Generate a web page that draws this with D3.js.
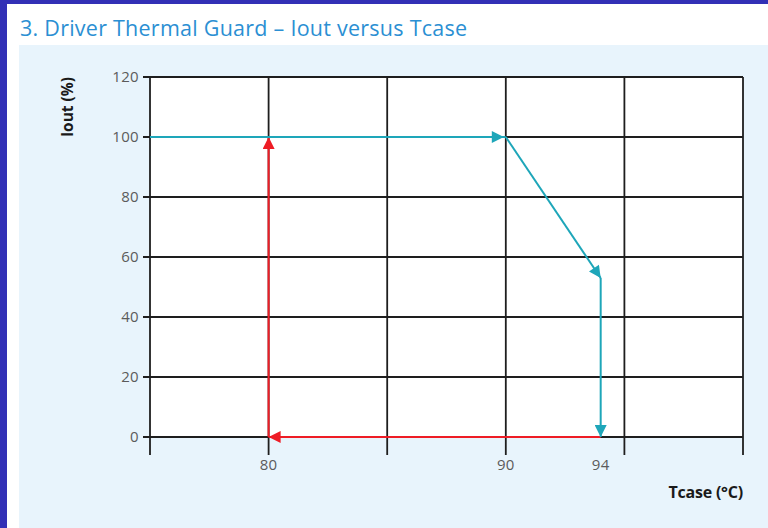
<!DOCTYPE html>
<html>
<head>
<meta charset="utf-8">
<script src="https://cdn.jsdelivr.net/npm/d3@7"></script>
<style>
  body { margin: 0; background: #ffffff; }
  #chart { width: 768px; height: 528px; }
</style>
</head>
<body>
<div id="chart"></div>
<script>
const width = 768;
const height = 528;

// axis ticks
const tempGrid = [75, 80, 85, 90, 95, 100];
const tempLabels = [80, 90, 94];
const ioutTicks = [0, 20, 40, 60, 80, 100, 120];

// derating path (teal) and recovery path (red)
const deratingTemp = [75, 90, 94, 94];
const deratingIout = [100, 100, 53, 0];
const recoveryTemp = [94, 80, 80];
const recoveryIout = [0, 0, 100];

const teal = '#1ea6b9';
const red = '#ee1c25';
const gridColor = '#1e1e1e';

const margin = { top: 77, right: 25, bottom: 91, left: 150 };

const svg = d3
  .select('#chart')
  .append('svg')
  .attr('width', width)
  .attr('height', height)
  .style('font-family', '"Open Sans", Lato, sans-serif');

// blue frame + white band + light panel
svg.append('rect').attr('width', width).attr('height', height).attr('fill', '#3230b6');
svg.append('rect').attr('x', 7).attr('y', 4).attr('width', width - 7).attr('height', height - 4).attr('fill', '#ffffff');
svg.append('rect').attr('x', 19).attr('y', 45).attr('width', width - 19).attr('height', height - 45).attr('fill', '#e8f4fc');

svg
  .append('text')
  .attr('x', 20)
  .attr('y', 36)
  .attr('fill', '#2b8fd3')
  .style('font-size', '21.5px')
  .style('letter-spacing', '0.25px')
  .text('3. Driver Thermal Guard – Iout versus Tcase');

const xScale = d3.scaleLinear().domain([75, 100]).range([margin.left, width - margin.right]);
const yScale = d3.scaleLinear().domain([0, 120]).range([height - margin.bottom, margin.top]);

// plot background
svg
  .append('rect')
  .attr('x', xScale(75))
  .attr('y', yScale(120))
  .attr('width', xScale(100) - xScale(75))
  .attr('height', yScale(0) - yScale(120))
  .attr('fill', '#ffffff');

// horizontal grid lines
svg
  .append('g')
  .selectAll('line')
  .data(ioutTicks)
  .enter()
  .append('line')
  .attr('x1', xScale(75) - 7)
  .attr('x2', xScale(100))
  .attr('y1', (d) => yScale(d))
  .attr('y2', (d) => yScale(d))
  .attr('stroke', gridColor)
  .attr('stroke-width', 1.8);

// vertical grid lines, running down past the 0 line as ticks
svg
  .append('g')
  .selectAll('line')
  .data(tempGrid)
  .enter()
  .append('line')
  .attr('x1', (d) => xScale(d))
  .attr('x2', (d) => xScale(d))
  .attr('y1', yScale(120))
  .attr('y2', yScale(0) + 18)
  .attr('stroke', gridColor)
  .attr('stroke-width', 1.8);

// y tick labels
svg
  .append('g')
  .selectAll('text')
  .data(ioutTicks)
  .enter()
  .append('text')
  .attr('x', xScale(75) - 11)
  .attr('y', (d) => yScale(d))
  .attr('dy', '0.35em')
  .attr('text-anchor', 'end')
  .attr('fill', '#5b5b5b')
  .style('font-size', '15px')
  .style('letter-spacing', '0.3px')
  .text((d) => d);

// x tick labels
svg
  .append('g')
  .selectAll('text')
  .data(tempLabels)
  .enter()
  .append('text')
  .attr('x', (d) => xScale(d))
  .attr('y', yScale(0) + 33)
  .attr('text-anchor', 'middle')
  .attr('fill', '#5b5b5b')
  .style('font-size', '15px')
  .style('letter-spacing', '0.3px')
  .text((d) => d);

// axis titles
svg
  .append('text')
  .attr('x', xScale(100))
  .attr('y', yScale(0) + 61)
  .attr('text-anchor', 'end')
  .attr('fill', '#1a1a1a')
  .style('font-size', '16px')
  .style('font-weight', 'bold')
  .style('letter-spacing', '-0.2px')
  .text('Tcase (°C)');

svg
  .append('text')
  .attr('transform', `translate(73, ${yScale(110)}) rotate(-90)`)
  .attr('text-anchor', 'middle')
  .attr('fill', '#1a1a1a')
  .style('font-size', '15.5px')
  .style('font-weight', 'bold')
  .text('Iout (%)');

// arrow markers
const defs = svg.append('defs');
[['teal', teal], ['red', red]].forEach(([id, color]) => {
  defs
    .append('marker')
    .attr('id', 'arrow-' + id)
    .attr('viewBox', '0 0 10 10')
    .attr('refX', 10)
    .attr('refY', 5)
    .attr('markerUnits', 'userSpaceOnUse')
    .attr('markerWidth', 16)
    .attr('markerHeight', 12)
    .attr('orient', 'auto')
    .append('path')
    .attr('d', 'M0,0 L10,5 L0,10 Z')
    .attr('fill', color);
});

function drawPath(temps, iouts, color, id) {
  const pts = temps.map((t, i) => [xScale(t), yScale(iouts[i])]);
  const segs = d3.pairs(pts);
  svg
    .append('g')
    .selectAll('line')
    .data(segs)
    .enter()
    .append('line')
    .attr('x1', (d) => d[0][0])
    .attr('y1', (d) => d[0][1])
    .attr('x2', (d) => d[1][0])
    .attr('y2', (d) => d[1][1])
    .attr('stroke', color)
    .attr('stroke-width', 2)
    .attr('marker-end', (d, i) => (i === 0 && id === 'teal' ? '' : `url(#arrow-${id})`));
}

drawPath(recoveryTemp, recoveryIout, red, 'red');
drawPath(deratingTemp, deratingIout, teal, 'teal');

// arrowhead on the first teal segment sits just before the 90 gridline
svg
  .append('line')
  .attr('x1', xScale(75))
  .attr('y1', yScale(100))
  .attr('x2', xScale(90) - 2)
  .attr('y2', yScale(100))
  .attr('stroke', 'none')
  .attr('marker-end', 'url(#arrow-teal)');
</script>
</body>
</html>
